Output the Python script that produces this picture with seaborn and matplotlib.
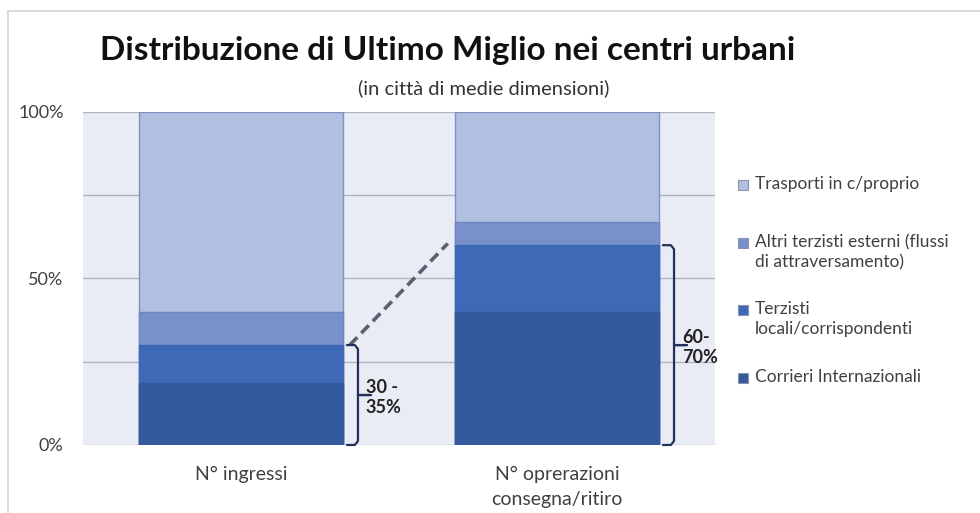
import numpy as np
import pandas as pd
import seaborn as sns
import matplotlib.pyplot as plt
from matplotlib.patches import Rectangle
from matplotlib.lines import Line2D

# Data (percent of total, bottom to top)
categories = ['N° ingressi', 'N° oprerazioni\nconsegna/ritiro']
series_names = ['Corrieri Internazionali',
                'Terzisti locali/corrispondenti',
                'Altri terzisti esterni (flussi di attraversamento)',
                'Trasporti in c/proprio']
legend_labels = ['Corrieri Internazionali',
                 'Terzisti\nlocali/corrispondenti',
                 'Altri terzisti esterni (flussi\ndi attraversamento)',
                 'Trasporti in c/proprio']
corrieri = [18.5, 40]
terzisti_locali = [11.5, 20]
altri_terzisti = [10, 7]
trasporti_proprio = [60, 33]
brace_ranges = [30, 60]
brace_labels = ['30 -\n35%', '60-\n70%']

colors = ['#34599C', '#3E69B7', '#7891CB', '#B1BFE0']
edge_colors = ['#34599C', '#3E69B7', '#6E84BE', '#7E90C4']

sns.set_theme(style='white')
plt.rcParams['font.family'] = ['Lato', 'DejaVu Sans']

df = pd.DataFrame({
    'categoria': categories,
    series_names[0]: corrieri,
    series_names[1]: terzisti_locali,
    series_names[2]: altri_terzisti,
    series_names[3]: trasporti_proprio,
})
cum = df[series_names].cumsum(axis=1)

fig = plt.figure(figsize=(9.8, 5.13), dpi=100)
ax = fig.add_axes([0.0847, 0.1326, 0.645, 0.6491])
ax.set_facecolor('#E9ECF5')

# stacked bars: draw cumulative totals from the top segment down
for i in range(len(series_names) - 1, -1, -1):
    sns.barplot(x=df['categoria'], y=cum[series_names[i]], color=colors[i],
                width=0.645, ax=ax, saturation=1, edgecolor=edge_colors[i],
                linewidth=1)

ax.set_xlim(-0.5, 1.5)
ax.set_ylim(0, 100)
ax.set_yticks([0, 50, 100])
ax.set_yticklabels(['0%', '50%', '100%'], fontsize=13, color='#404040')
ax.set_yticks([25, 75], minor=True)
ax.grid(axis='y', which='both', color='#B0B4C0', lw=1)
ax.set_axisbelow(True)
ax.tick_params(axis='x', labelsize=14, colors='#404040', pad=15, length=0)
ax.tick_params(axis='y', pad=14, length=0, which='both')
for t in ax.get_xticklabels():
    t.set_linespacing(1.55)
ax.set_xlabel('')
ax.set_ylabel('')
for s in ax.spines.values():
    s.set_visible(False)

# dashed connector between the two stacks
ax.plot([0.344, 0.654], [brace_ranges[0], 60.5], ls=(0, (3, 1.6)),
        color='#5A6072', lw=2.6, zorder=5)

# curly brackets with labels
def brace(x0, top, label):
    xs = [x0, x0 + 0.025, x0 + 0.035, x0 + 0.035, x0 + 0.075,
          x0 + 0.035, x0 + 0.035, x0 + 0.025, x0]
    ys = [top, top, top - 1.2, top / 2, top / 2, top / 2, 1.2, 0, 0]
    ax.plot(xs, ys, color='#22305A', lw=1.6, zorder=6, clip_on=False)
    ax.text(x0 + 0.06, top / 2 - 0.8, label, fontsize=13, fontweight='bold',
            color='#222222', va='center', ha='left', linespacing=1.25)

brace(0.335, brace_ranges[0], brace_labels[0])
brace(1.335, brace_ranges[1], brace_labels[1])

# legend drawn by hand (top to bottom: lightest to darkest), square next to first line
legend_rows = [185, 243, 310, 378]
for row, i in zip(legend_rows, range(3, -1, -1)):
    yc = 1 - row / 513
    fig.add_artist(Rectangle((738 / 980, yc - 5 / 513), 10 / 980, 10 / 513,
                             transform=fig.transFigure, facecolor=colors[i],
                             edgecolor='#8A94B0', lw=0.8))
    fig.text(755 / 980, yc + 9 / 513, legend_labels[i], ha='left', va='top',
             fontsize=12.5, color='#404040', linespacing=1.3)

fig.text(0.457, 0.902, 'Distribuzione di Ultimo Miglio nei centri urbani',
         ha='center', va='center', fontsize=24, fontweight='bold', color='#111111')
fig.text(0.494, 0.828, '(in città di medie dimensioni)',
         ha='center', va='center', fontsize=14.5, color='#333333')

# outer frame of the chart
fig.add_artist(Line2D([8 / 980, 8 / 980], [0, 1 - 11 / 513], color='#D4D4D4', lw=1.2))
fig.add_artist(Line2D([8 / 980, 1], [1 - 11 / 513, 1 - 11 / 513], color='#D4D4D4', lw=1.2))

fig.savefig('out.png', dpi=100)
